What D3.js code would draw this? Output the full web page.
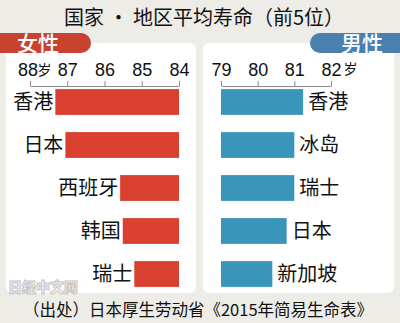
<!DOCTYPE html>
<html><head><meta charset="utf-8">
<script src="https://cdn.jsdelivr.net/npm/d3@7"></script>
<style>
html,body{margin:0;padding:0;background:#eeece7;}
svg{display:block;}
text{font-family:"Noto Sans CJK SC","Noto Sans",sans-serif;}
</style></head>
<body>
<script>
const title = "国家 · 地区平均寿命（前5位）";
const source = "（出处）日本厚生劳动省《2015年简易生命表》";
const femaleLabel = "女性";
const maleLabel = "男性";
const femaleCountries = ["香港","日本","西班牙","韩国","瑞士"];
const femaleValues = [87.32, 87.05, 85.58, 85.51, 85.2];
const maleCountries = ["香港","冰岛","瑞士","日本","新加坡"];
const maleValues = [81.24, 81.0, 81.0, 80.79, 80.4];
const femaleTicks = [88, 87, 86, 85, 84];
const maleTicks = [79, 80, 81, 82];
const unit = "岁";

const W = 400, H = 323;
const svg = d3.select("body").append("svg").attr("width", W).attr("height", H);

svg.append("rect").attr("width", W).attr("height", H).attr("fill", "#eeece7");

// panels
svg.append("rect").attr("x", 6).attr("y", 43).attr("width", 190).attr("height", 250).attr("rx", 6).attr("fill", "#ffffff");
svg.append("rect").attr("x", 203).attr("y", 43).attr("width", 191).attr("height", 250).attr("rx", 6).attr("fill", "#ffffff");

// title
svg.append("text").attr("x", 204).attr("y", 25).attr("text-anchor", "middle")
  .attr("font-size", 20).attr("fill", "#111").text(title);

// tabs
const tabY = 33, tabH = 20;
svg.append("path").attr("fill", "#c9412f")
  .attr("d", `M-5,${tabY} H${91 - tabH/2} A${tabH/2},${tabH/2} 0 0 1 ${91 - tabH/2},${tabY + tabH} H-5 Z`);
svg.append("text").attr("x", 38).attr("y", tabY + tabH/2).attr("dy", "0.36em").attr("text-anchor", "middle")
  .attr("font-size", 21).attr("font-weight", 500).attr("fill", "#fff").text(femaleLabel);
svg.append("path").attr("fill", "#4a7faf")
  .attr("d", `M405,${tabY} H${310 + tabH/2} A${tabH/2},${tabH/2} 0 0 0 ${310 + tabH/2},${tabY + tabH} H405 Z`);
svg.append("text").attr("x", 362).attr("y", tabY + tabH/2).attr("dy", "0.36em").attr("text-anchor", "middle")
  .attr("font-size", 21).attr("font-weight", 500).attr("fill", "#fff").text(maleLabel);

// scales
const xF = d3.scaleLinear().domain([88, 84]).range([30, 179]);
const xM = d3.scaleLinear().domain([79, 82]).range([221, 331]);
const y = d3.scaleBand().domain(d3.range(5)).range([80.5, 295.5]).paddingInner(0.4).paddingOuter(0.2);
const axisY = 86;

function styleAxis(g) {
  g.select(".domain").attr("stroke", "#888").attr("stroke-width", 1);
  g.selectAll(".tick line").attr("stroke", "#888");
  g.selectAll(".tick text").attr("font-size", 18).attr("fill", "#111")
    .style("font-family", '"Liberation Sans Narrow","Liberation Sans",Arial,sans-serif');
}

const gF = svg.append("g").attr("transform", `translate(0,${axisY})`)
  .call(d3.axisTop(xF).tickValues(femaleTicks).tickSize(5).tickSizeOuter(0).tickPadding(5).tickFormat(d3.format("d")));
styleAxis(gF);
gF.selectAll(".tick").filter(d => d === 88).select("text").attr("dx", -2.5);
const gM = svg.append("g").attr("transform", `translate(0,${axisY})`)
  .call(d3.axisTop(xM).tickValues(maleTicks).tickSize(5).tickSizeOuter(0).tickPadding(5).tickFormat(d3.format("d")));
styleAxis(gM);

// unit labels
svg.append("text").attr("x", xF(88) + 7.5).attr("y", axisY - 11).attr("font-size", 14).attr("fill", "#111").text(unit);
svg.append("text").attr("x", xM(82) + 12.5).attr("y", axisY - 12).attr("font-size", 14).attr("fill", "#111").text(unit);

// female bars
svg.append("g").selectAll("rect").data(femaleValues).join("rect")
  .attr("x", d => xF(d)).attr("y", (d, i) => y(i))
  .attr("width", d => xF(84) - xF(d)).attr("height", y.bandwidth())
  .attr("fill", "#d9402f");
svg.append("g").selectAll("text").data(femaleCountries).join("text")
  .attr("x", (d, i) => xF(femaleValues[i]) - 2).attr("y", (d, i) => y(i) + y.bandwidth() / 2)
  .attr("dy", "0.36em").attr("text-anchor", "end").attr("font-size", 20).attr("fill", "#111")
  .text(d => d);

// male bars
svg.append("g").selectAll("rect").data(maleValues).join("rect")
  .attr("x", xM(79)).attr("y", (d, i) => y(i))
  .attr("width", d => xM(d) - xM(79)).attr("height", y.bandwidth())
  .attr("fill", "#3a95bb");
svg.append("g").selectAll("text").data(maleCountries).join("text")
  .attr("x", (d, i) => xM(maleValues[i]) + 5).attr("y", (d, i) => y(i) + y.bandwidth() / 2)
  .attr("dy", "0.36em").attr("text-anchor", "start").attr("font-size", 20).attr("fill", "#111")
  .text(d => d);

// watermark
svg.append("text").attr("x", 8).attr("y", 292).attr("font-size", 14).attr("font-weight", 900)
  .attr("fill", "#f4f4f4").attr("stroke", "#c4c4c4").attr("stroke-width", 1).text("日经中文网");

// source
svg.append("text").attr("x", 198).attr("y", 316).attr("text-anchor", "middle")
  .attr("font-size", 16.5).attr("fill", "#111").text(source);
</script>
</body></html>
